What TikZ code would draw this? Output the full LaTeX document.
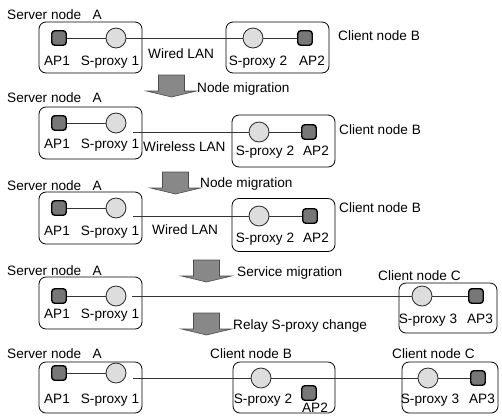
\documentclass[tikz,border=0pt]{standalone}
\usepackage{fontspec}
\setmainfont{Liberation Sans}
\definecolor{apfill}{HTML}{777777}
\definecolor{pxfill}{HTML}{DDDDDD}
\definecolor{arrfill}{HTML}{888888}
\definecolor{wire}{HTML}{333333}
\begin{document}
\begin{tikzpicture}[x=1pt,y=-1pt,
  lbl/.style={inner sep=0pt, font=\fontsize{13.6}{15}\selectfont},
  nodebox/.style={draw=black, line width=0.8pt, rounded corners=7pt, inner sep=0pt},
  apsq/.style={rectangle, draw=black, line width=1.4pt, fill=apfill,
    minimum size=14.5pt, inner sep=0pt, rounded corners=3pt},
  proxy/.style={circle, draw=black!85, line width=0.8pt, fill=pxfill,
    minimum size=20pt, inner sep=0pt},
  link/.style={draw=wire, line width=0.8pt},
  migrate/.pic={\filldraw[fill=arrfill, draw=black!70, line width=0.6pt]
    (-13,0) -- (13,0) -- (13,16) -- (25,16) -- (0,22) -- (-25,16) -- (-13,16) -- cycle;}
]
\useasboundingbox (0,0) rectangle (502,416);

% ---------- stage 1 ----------
\node[lbl, anchor=base west] (sA1) at (7,19) {Server node\ \ \ A};
\node[nodebox, minimum width=103pt, minimum height=51pt] (boxA1) at (90.5,47.5) {};
\node[nodebox, minimum width=103pt, minimum height=51pt] (boxB1) at (277.5,47.5) {};
\node[apsq] (ap1a) at (59,38) {};
\node[proxy] (sp1a) at (116,38) {};
\node[proxy] (sp2a) at (253,38) {};
\node[apsq] (ap2a) at (305,38) {};
\draw[link] (ap1a) -- (sp1a);
\draw[link] (sp1a) -- (sp2a);
\draw[link] (sp2a) -- (ap2a);
\node[lbl, anchor=base] (lap1a) at (57,65) {AP1};
\node[lbl, anchor=base] (lsp1a) at (110,65) {S-proxy 1};
\node[lbl, anchor=base] (lsp2a) at (258,65) {S-proxy 2};
\node[lbl, anchor=base] (lap2a) at (312,65) {AP2};
\node[lbl, anchor=base west] (lan1) at (148,58) {Wired LAN};
\node[lbl, anchor=base west] (cB1) at (338,40) {Client node B};

\pic at (171.5,75) {migrate};
\node[lbl, anchor=base west] (m1) at (197,92) {Node migration};

% ---------- stage 2 ----------
\node[lbl, anchor=base west] (sA2) at (7,102) {Server node\ \ \ A};
\node[nodebox, minimum width=103pt, minimum height=52pt] (boxA2) at (90.5,133) {};
\node[nodebox, minimum width=103pt, minimum height=52pt] (boxB2) at (283.5,141) {};
\node[apsq] (ap1b) at (59,123) {};
\node[proxy] (sp1b) at (116,123) {};
\node[proxy] (sp2b) at (259,132) {};
\node[apsq] (ap2b) at (309,132) {};
\coordinate (endb) at (133,132);
\draw[link] (ap1b) -- (sp1b);
\draw[link] (endb) -- (sp2b);
\draw[link] (sp2b) -- (ap2b);
\node[lbl, anchor=base] (lap1b) at (57,148) {AP1};
\node[lbl, anchor=base] (lsp1b) at (110,148) {S-proxy 1};
\node[lbl, anchor=base] (lsp2b) at (265,155) {S-proxy 2};
\node[lbl, anchor=base] (lap2b) at (316,155) {AP2};
\node[lbl, anchor=base west] (lan2) at (143,151) {Wireless LAN};
\node[lbl, anchor=base west] (cB2) at (339,134) {Client node B};

\pic at (175.5,172) {migrate};
\node[lbl, anchor=base west] (m2) at (200,187) {Node migration};

% ---------- stage 3 ----------
\node[lbl, anchor=base west] (sA3) at (7,190) {Server node\ \ \ A};
\node[nodebox, minimum width=103pt, minimum height=52pt] (boxA3) at (90.5,218) {};
\node[nodebox, minimum width=103pt, minimum height=53pt] (boxB3) at (283.5,225) {};
\node[apsq] (ap1c) at (59,208) {};
\node[proxy] (sp1c) at (116,208) {};
\node[proxy] (sp2c) at (259,216) {};
\node[apsq] (ap2c) at (310,216) {};
\coordinate (endc) at (133,216);
\draw[link] (ap1c) -- (sp1c);
\draw[link] (endc) -- (sp2c);
\draw[link] (sp2c) -- (ap2c);
\node[lbl, anchor=base] (lap1c) at (57,235) {AP1};
\node[lbl, anchor=base] (lsp1c) at (110,235) {S-proxy 1};
\node[lbl, anchor=base] (lsp2c) at (265,242) {S-proxy 2};
\node[lbl, anchor=base] (lap2c) at (316,242) {AP2};
\node[lbl, anchor=base west] (lan3) at (152,234) {Wired LAN};
\node[lbl, anchor=base west] (cB3) at (339,212) {Client node B};

\pic at (206.5,260) {migrate};
\node[lbl, anchor=base west] (m3) at (237,276) {Service migration};

% ---------- stage 4 ----------
\node[lbl, anchor=base west] (sA4) at (7,275) {Server node\ \ \ A};
\node[nodebox, minimum width=103pt, minimum height=52pt] (boxA4) at (90.5,303) {};
\node[nodebox, minimum width=98pt, minimum height=50pt] (boxC4) at (448,308) {};
\node[apsq] (ap1d) at (59,296) {};
\node[proxy] (sp1d) at (116,296) {};
\node[proxy] (sp3d) at (422,296) {};
\node[apsq] (ap3d) at (476,296) {};
\coordinate (endd) at (132,296);
\draw[link] (ap1d) -- (sp1d);
\draw[link] (endd) -- (sp3d);
\draw[link] (sp3d) -- (ap3d);
\node[lbl, anchor=base] (lap1d) at (57,318) {AP1};
\node[lbl, anchor=base] (lsp1d) at (110,318) {S-proxy 1};
\node[lbl, anchor=base] (lsp3d) at (428,323) {S-proxy 3};
\node[lbl, anchor=base] (lap3d) at (480,323) {AP3};
\node[lbl, anchor=base west] (cC4) at (378,280) {Client node C};

\pic at (206.5,313) {migrate};
\node[lbl, anchor=base west] (m4) at (233,329) {Relay S-proxy change};

% ---------- stage 5 ----------
\node[lbl, anchor=base west] (sA5) at (7,358) {Server node\ \ \ A};
\node[nodebox, minimum width=103pt, minimum height=51pt] (boxA5) at (90.5,387.5) {};
\node[nodebox, minimum width=102pt, minimum height=51pt] (boxB5) at (284,387.5) {};
\node[nodebox, minimum width=96pt, minimum height=51pt] (boxC5) at (450,387.5) {};
\node[apsq] (ap1e) at (59,373) {};
\node[proxy] (sp1e) at (116,373) {};
\node[proxy] (sp2e) at (261,378) {};
\node[apsq] (ap2e) at (309,393) {};
\node[proxy] (sp3e) at (428,378) {};
\node[apsq] (ap3e) at (478,378) {};
\coordinate (ende) at (133,378);
\draw[link] (ap1e) -- (sp1e);
\draw[link] (ende) -- (sp2e);
\draw[link] (sp2e) -- (sp3e);
\draw[link] (sp3e) -- (ap3e);
\node[lbl, anchor=base] (lap1e) at (57,403) {AP1};
\node[lbl, anchor=base] (lsp1e) at (110,403) {S-proxy 1};
\node[lbl, anchor=base] (lsp2e) at (263,403) {S-proxy 2};
\node[lbl, anchor=base] (lap2e) at (315,412) {AP2};
\node[lbl, anchor=base] (lsp3e) at (430,403) {S-proxy 3};
\node[lbl, anchor=base] (lap3e) at (482,403) {AP3};
\node[lbl, anchor=base west] (cB5) at (210,358) {Client node B};
\node[lbl, anchor=base west] (cC5) at (392,358) {Client node C};
\end{tikzpicture}
\end{document}
